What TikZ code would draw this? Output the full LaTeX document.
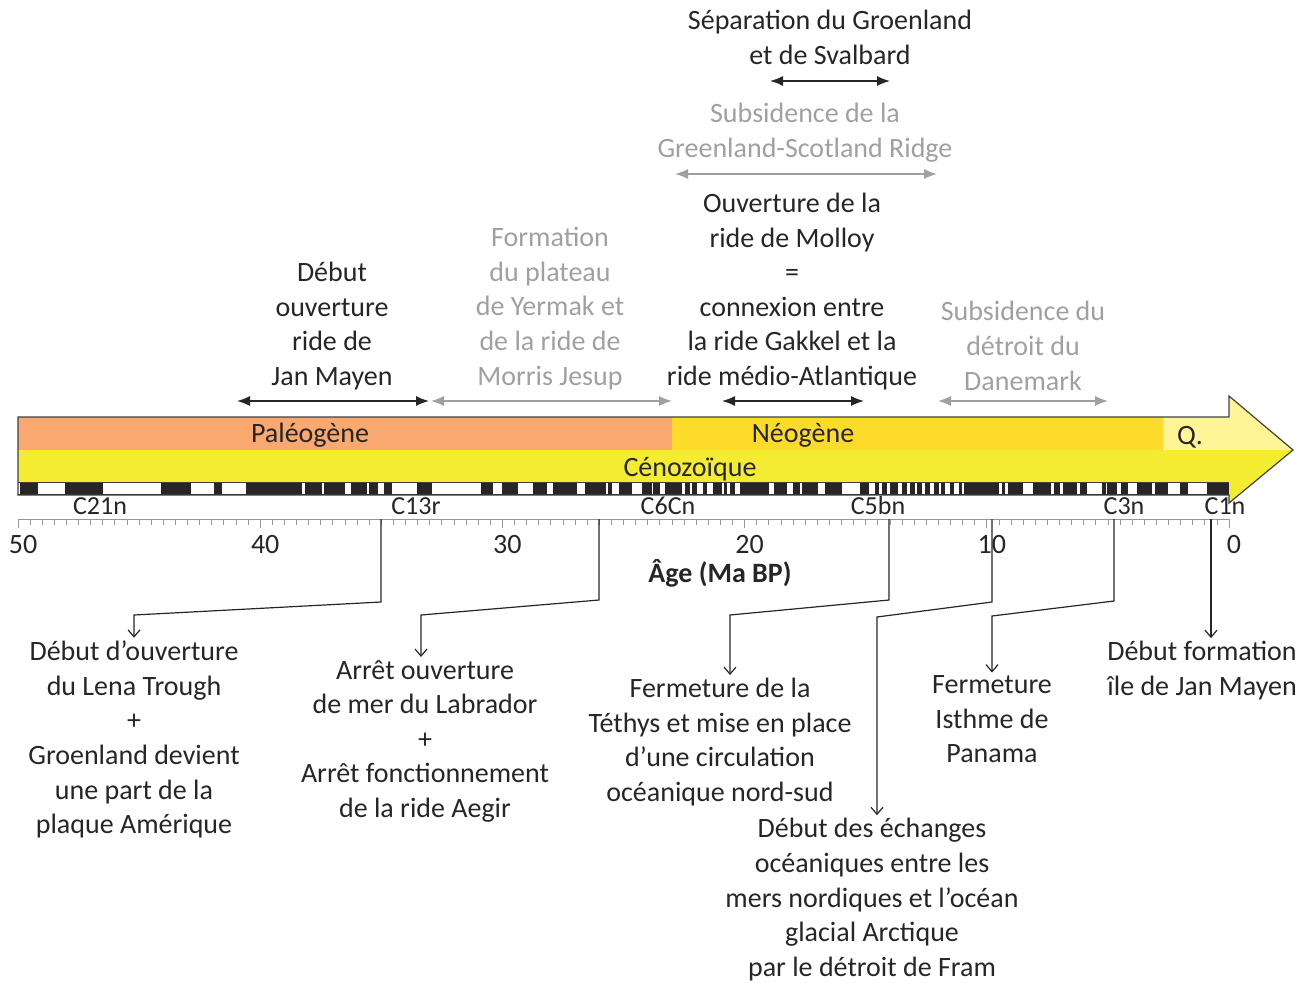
\documentclass[tikz,border=0pt]{standalone}
\usepackage{fontspec}
\setmainfont{Carlito}
\usetikzlibrary{arrows.meta}

\definecolor{paleo}{RGB}{249,168,111}
\definecolor{neo}{RGB}{253,219,42}
\definecolor{quat}{RGB}{255,245,150}
\definecolor{ceno}{RGB}{244,236,49}
\definecolor{txtdark}{RGB}{38,38,38}
\definecolor{txtgray}{RGB}{160,160,160}
\definecolor{axgray}{RGB}{150,150,150}

\newcommand{\evtfont}{\fontsize{28}{34.6}\selectfont}
\newcommand{\chronfont}{\fontsize{26}{30}\selectfont}

\begin{document}
\begin{tikzpicture}[x=1pt, y=-1pt,
	evt/.style={align=center, font=\evtfont, text=txtdark, inner sep=0pt,
		execute at begin node=\strut, execute at end node=\strut},
	evtgray/.style={evt, text=txtgray},
	spanblk/.style={<->, >={Latex[length=13pt,width=10pt]}, line width=1.4pt, draw=txtdark},
	spangry/.style={spanblk, draw=txtgray},
	evtarrow/.style={-{Straight Barb[length=7pt,width=12pt]}, line width=1.2pt, draw=txtdark, shorten >=3pt},
	chron/.style={font=\chronfont, text=txtdark, inner sep=0pt},
	axlbl/.style={font=\evtfont, text=txtdark, inner sep=0pt}]
	\useasboundingbox (0,0) rectangle (1313,982);

	% arrow of time
	\coordinate (b1) at (18,417);
	\coordinate (b2) at (1229,417);
	\coordinate (b3) at (1229,396);
	\coordinate (b4) at (1293,450);
	\coordinate (b5) at (1229,503);
	\coordinate (b6) at (1229,495);
	\coordinate (b7) at (18,495);
	\fill[ceno] (b1) -- (b2) -- (b3) -- (b4) -- (b5) -- (b6) -- (b7) -- cycle;
	\begin{scope}
		\clip (b1) -- (b2) -- (b3) -- (b4) -- (b5) -- (b6) -- (b7) -- cycle;
		\fill[paleo] (18,417) rectangle (672,450);
		\fill[neo] (672,417) rectangle (1163,450);
		\fill[quat] (1163,390) rectangle (1300,450);
	\end{scope}
	% polarity chrons
	\fill[black!85] (18,482) rectangle (1229,495);
	\foreach \a/\b in {18/20, 38/65, 103/161, 191/214, 222/246, 302/305, 322/324,
		345/351, 367/369, 378/384, 392/417, 432/481, 493/502, 518/533, 547/553,
		577/585, 606/608, 612/619, 632/642, 652/653, 660/665, 682/685, 690/692,
		697/703, 707/713, 722/724, 727/730, 735/740, 769/774, 787/793, 800/802,
		818/825, 842/860, 869/875, 879/882, 887/890, 898/902, 907/910, 915/917,
		922/925, 930/934, 939/941, 945/950, 954/959, 962/964, 999/1002, 1005/1008,
		1023/1033, 1051/1054, 1060/1063, 1077/1080, 1087/1102, 1106/1107,
		1117/1121, 1128/1137, 1152/1155, 1168/1180, 1188/1207}
		\fill[white] (\a,482.6) rectangle (\b,494.4);
	\draw[line width=1.2pt, draw=black!75] (b1) -- (b2) -- (b3) -- (b4) -- (b5) -- (b6) -- (b7) -- cycle;
	\draw[line width=1pt, draw=black!75] (18,482) -- (1229,482);

	\node[evt] (pal) at (310,436) {Paléogène};
	\node[evt] (neog) at (803,436) {Néogène};
	\node[evt] (qua) at (1190,438) {Q.};
	\node[evt] (cen) at (690,470) {Cénozoïque};

	\node[chron] (c21) at (100,506) {C21n};
	\node[chron] (c13) at (416,506) {C13r};
	\node[chron] (c6c) at (668,506) {C6Cn};
	\node[chron] (c5b) at (878,506) {C5bn};
	\node[chron] (c3) at (1124,506) {C3n};
	\node[chron] (c1) at (1225,506) {C1n};

	% age axis
	\draw[axgray, line width=0.9pt] (18,519) -- (1229,519);
	\foreach \i in {0,...,100}
		\draw[axgray, line width=0.8pt] ({18+12.11*\i},519) -- ++(0,6);
	\foreach \i in {0,...,5}
		\draw[axgray, line width=0.8pt] ({18+242.2*\i},519) -- ++(0,9);
	\foreach \v [count=\k from 0] in {50,40,...,0}
		\node[axlbl] (t\v) at ({23+242.2*\k},545) {\v};
	\node[axlbl, font=\evtfont\bfseries] (age) at (720,573) {Âge (Ma BP)};

	% events above
	\node[evt] (svalb) at (830,42.5) {Séparation du Groenland\\et de Svalbard};
	\node[evtgray] (gsr) at (805,135.5) {Subsidence de la\\Greenland-Scotland Ridge};
	\node[evt] (molloy) at (792,294.5) {Ouverture de la\\ride de Molloy\\=\\connexion entre\\la ride Gakkel et la\\ride médio-Atlantique};
	\node[evt] (jmr) at (332,329) {Début\\ouverture\\ride de\\Jan Mayen};
	\node[evtgray] (yermak) at (550,311.5) {Formation\\du plateau\\de Yermak et\\de la ride de\\Morris Jesup};
	\node[evtgray] (danm) at (1023,351) {Subsidence du\\détroit du\\Danemark};

	\coordinate (s1a) at (770,81);   \coordinate (s1b) at (890,81);
	\coordinate (s2a) at (675,174);  \coordinate (s2b) at (937,174);
	\coordinate (s3a) at (237,401);  \coordinate (s3b) at (429,401);
	\coordinate (s4a) at (431,401);  \coordinate (s4b) at (672,401);
	\coordinate (s5a) at (722,401);  \coordinate (s5b) at (864,401);
	\coordinate (s6a) at (938,401);  \coordinate (s6b) at (1108,401);
	\draw[spanblk] (s1a) -- (s1b);
	\draw[spangry] (s2a) -- (s2b);
	\draw[spanblk] (s3a) -- (s3b);
	\draw[spangry] (s4a) -- (s4b);
	\draw[spanblk] (s5a) -- (s5b);
	\draw[spangry] (s6a) -- (s6b);

	% events below
	\node[evt] (lena) at (134,742.5) {Début d’ouverture\\du Lena Trough\\+\\Groenland devient\\une part de la\\plaque Amérique};
	\node[evt] (labr) at (425,744) {Arrêt ouverture\\de mer du Labrador\\+\\Arrêt fonctionnement\\de la ride Aegir};
	\node[evt] (teth) at (720,745) {Fermeture de la\\Téthys et mise en place\\d’une circulation\\océanique nord-sud};
	\node[evt] (fram) at (872,902.5) {Début des échanges\\océaniques entre les\\mers nordiques et l’océan\\glacial Arctique\\par le détroit de Fram};
	\node[evt] (pana) at (992,724.5) {Fermeture\\Isthme de\\Panama};
	\node[evt] (jmay) at (1202,673.5) {Début formation\\île de Jan Mayen};

	\coordinate (a35) at (381,519);   \coordinate (k35) at (134,615);
	\coordinate (a26) at (599,519);   \coordinate (k26) at (421,615);
	\coordinate (a14) at (889,519);   \coordinate (k14) at (730,615);
	\coordinate (a10) at (992,519);   \coordinate (k10) at (877,617);
	\coordinate (a5) at (1114,519);   \coordinate (k5) at (992,616);
	\coordinate (a1) at (1211,519);
	\draw[evtarrow] (a35) -- ++(0,83) -- (k35) -- (k35 |- lena.north);
	\draw[evtarrow] (a26) -- ++(0,81) -- (k26) -- (k26 |- labr.north);
	\draw[evtarrow] (a14) -- ++(0,81) -- (k14) -- (k14 |- teth.north);
	\draw[evtarrow] (a10) -- ++(0,83) -- (k10) -- (k10 |- fram.north);
	\draw[evtarrow] (a5) -- ++(0,82) -- (k5) -- (k5 |- pana.north);
	\draw[evtarrow] (a1) -- (a1 |- jmay.north);
\end{tikzpicture}
\end{document}
